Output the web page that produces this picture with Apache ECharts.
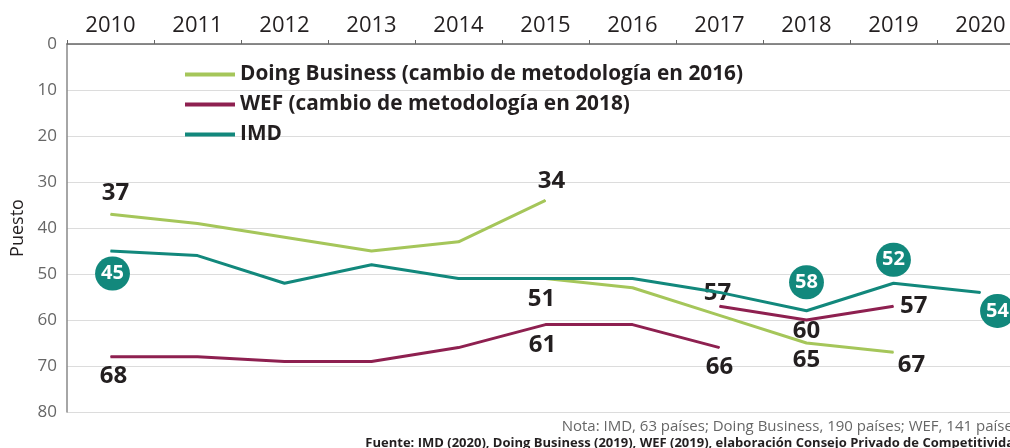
<!DOCTYPE html>
<html>
<head>
<meta charset="utf-8">
<script src="https://cdn.jsdelivr.net/npm/echarts@6/dist/echarts.min.js"></script>
<style>
html,body{margin:0;padding:0;background:#fff;}
#chart{width:1010px;height:448px;}
</style>
</head>
<body>
<div id="chart"></div>
<script>
// ---- data ----
const years = ['2010','2011','2012','2013','2014','2015','2016','2017','2018','2019','2020'];
const yTicks = [0,10,20,30,40,50,60,70,80];
const dbOld  = [37, 39, 42, 45, 43, 34, null, null, null, null, null];
const dbNew  = [null, null, null, null, null, 51, 53, 59, 65, 67, null];
const wefOld = [68, 68, 69, 69, 66, 61, 61, 66, null, null, null];
const wefNew = [null, null, null, null, null, null, null, 57, 60, 57, null];
const imd    = [45, 46, 52, 48, 51, 51, 51, 54, 58, 52, 54];

const nameDB = 'Doing Business (cambio de metodología en 2016)';
const nameWEF = 'WEF (cambio de metodología en 2018)';
const nameIMD = 'IMD';

const FONT = 'Open Sans';
const DARK = '#231f20';
const C_DB = '#a5c65a', C_WEF = '#8e2050', C_IMD = '#12887c';

// label placement (style only)
const plainLbl = (pos, dist, off) => ({show:true, position:pos, distance:dist, offset:off||[0,0],
  color:DARK, fontFamily:FONT, fontWeight:'bold', fontSize:24});
const circLbl = (pos, dist, off) => ({show:true, position:pos, distance:dist, offset:off||[0,0],
  color:'#fff', fontFamily:FONT, fontWeight:'bold', fontSize:20,
  backgroundColor:C_IMD, borderRadius:18, lineHeight:22, padding:[6,6,6,6]});

const lblDbOld = {0: plainLbl('top', 9, [5,0]), 5: plainLbl('top', 7, [6,0])};
const lblDbNew = {5: plainLbl('bottom', 8, [-4,0]), 8: plainLbl('bottom', 5), 9: plainLbl('bottom', 0, [18,0])};
const lblWefOld = {0: plainLbl('bottom', 7, [3,0]), 5: plainLbl('bottom', 8, [-3,0]), 7: plainLbl('bottom', 7)};
const lblWefNew = {7: plainLbl('top', 1, [-2,0]), 8: plainLbl('bottom', -1), 9: plainLbl('right', 6)};
const lblImd = {0: circLbl('bottom', 5, [2,0]), 8: circLbl('top', 11), 9: circLbl('top', 6), 10: circLbl('bottom', 1, [17,0])};

function build(vals, lbls) {
  return vals.map((v, i) => {
    const o = {value: v};
    if (lbls[i]) o.label = lbls[i];
    return o;
  });
}
function lineSeries(name, vals, lbls, color, z) {
  return {
    type:'line', name:name, data:build(vals, lbls), z:z,
    symbol:'circle', symbolSize:1, showSymbol:true, connectNulls:false,
    lineStyle:{color:color, width:3}, itemStyle:{color:color},
    label:{show:false, formatter: p => p.value},
    emphasis:{disabled:true}, animation:false
  };
}

const chart = echarts.init(document.getElementById('chart'));
chart.setOption({
  backgroundColor:'#fff',
  animation:false,
  grid:{left:67, top:44, width:957, height:368, outerBoundsMode:'none', containLabel:false},
  legend:{
    orient:'vertical', left:180, top:59, itemGap:9, itemWidth:50, itemHeight:4,
    icon:'rect', selectedMode:false,
    data:[{name:nameDB},{name:nameWEF},{name:nameIMD}],
    textStyle:{fontFamily:FONT, fontWeight:'bold', fontSize:20.8, color:DARK, lineHeight:20}
  },
  xAxis:{
    type:'category', position:'top', data:years, boundaryGap:true,
    axisLine:{lineStyle:{color:'#666', width:1.5}},
    axisTick:{show:true, length:4, lineStyle:{color:'#666'}},
    axisLabel:{fontFamily:FONT, fontSize:22, color:DARK, margin:7, fontWeight:500}
  },
  yAxis:{
    type:'value', inverse:true, min:yTicks[0], max:yTicks[yTicks.length-1], interval:yTicks[1]-yTicks[0],
    name:'Puesto', nameLocation:'middle', nameGap:40, nameRotate:90,
    nameTextStyle:{fontFamily:FONT, fontSize:18, color:DARK},
    axisLine:{show:true, lineStyle:{color:'#888', width:1.5}},
    axisTick:{show:false},
    splitLine:{lineStyle:{color:'#dcdcdc', width:1.2}},
    axisLabel:{fontFamily:FONT, fontSize:17, color:'#666', margin:10}
  },
  series:[
    lineSeries(nameDB, dbOld, lblDbOld, C_DB, 2),
    lineSeries(nameDB, dbNew, lblDbNew, C_DB, 2),
    lineSeries(nameWEF, wefOld, lblWefOld, C_WEF, 3),
    lineSeries(nameWEF, wefNew, lblWefNew, C_WEF, 3),
    lineSeries(nameIMD, imd, lblImd, C_IMD, 4)
  ],
  graphic:[
    {type:'text', right:-10, top:419, style:{text:'Nota: IMD, 63 países; Doing Business, 190 países; WEF, 141 países',
      fontFamily:FONT, fontSize:15, fill:'#666', textAlign:'right'}},
    {type:'text', right:-16, top:437, style:{text:'Fuente: IMD (2020), Doing Business (2019), WEF (2019), elaboración Consejo Privado de Competitividad.',
      fontFamily:FONT, fontSize:13, fontWeight:'bold', fill:DARK, textAlign:'right'}}
  ]
});
</script>
</body>
</html>
